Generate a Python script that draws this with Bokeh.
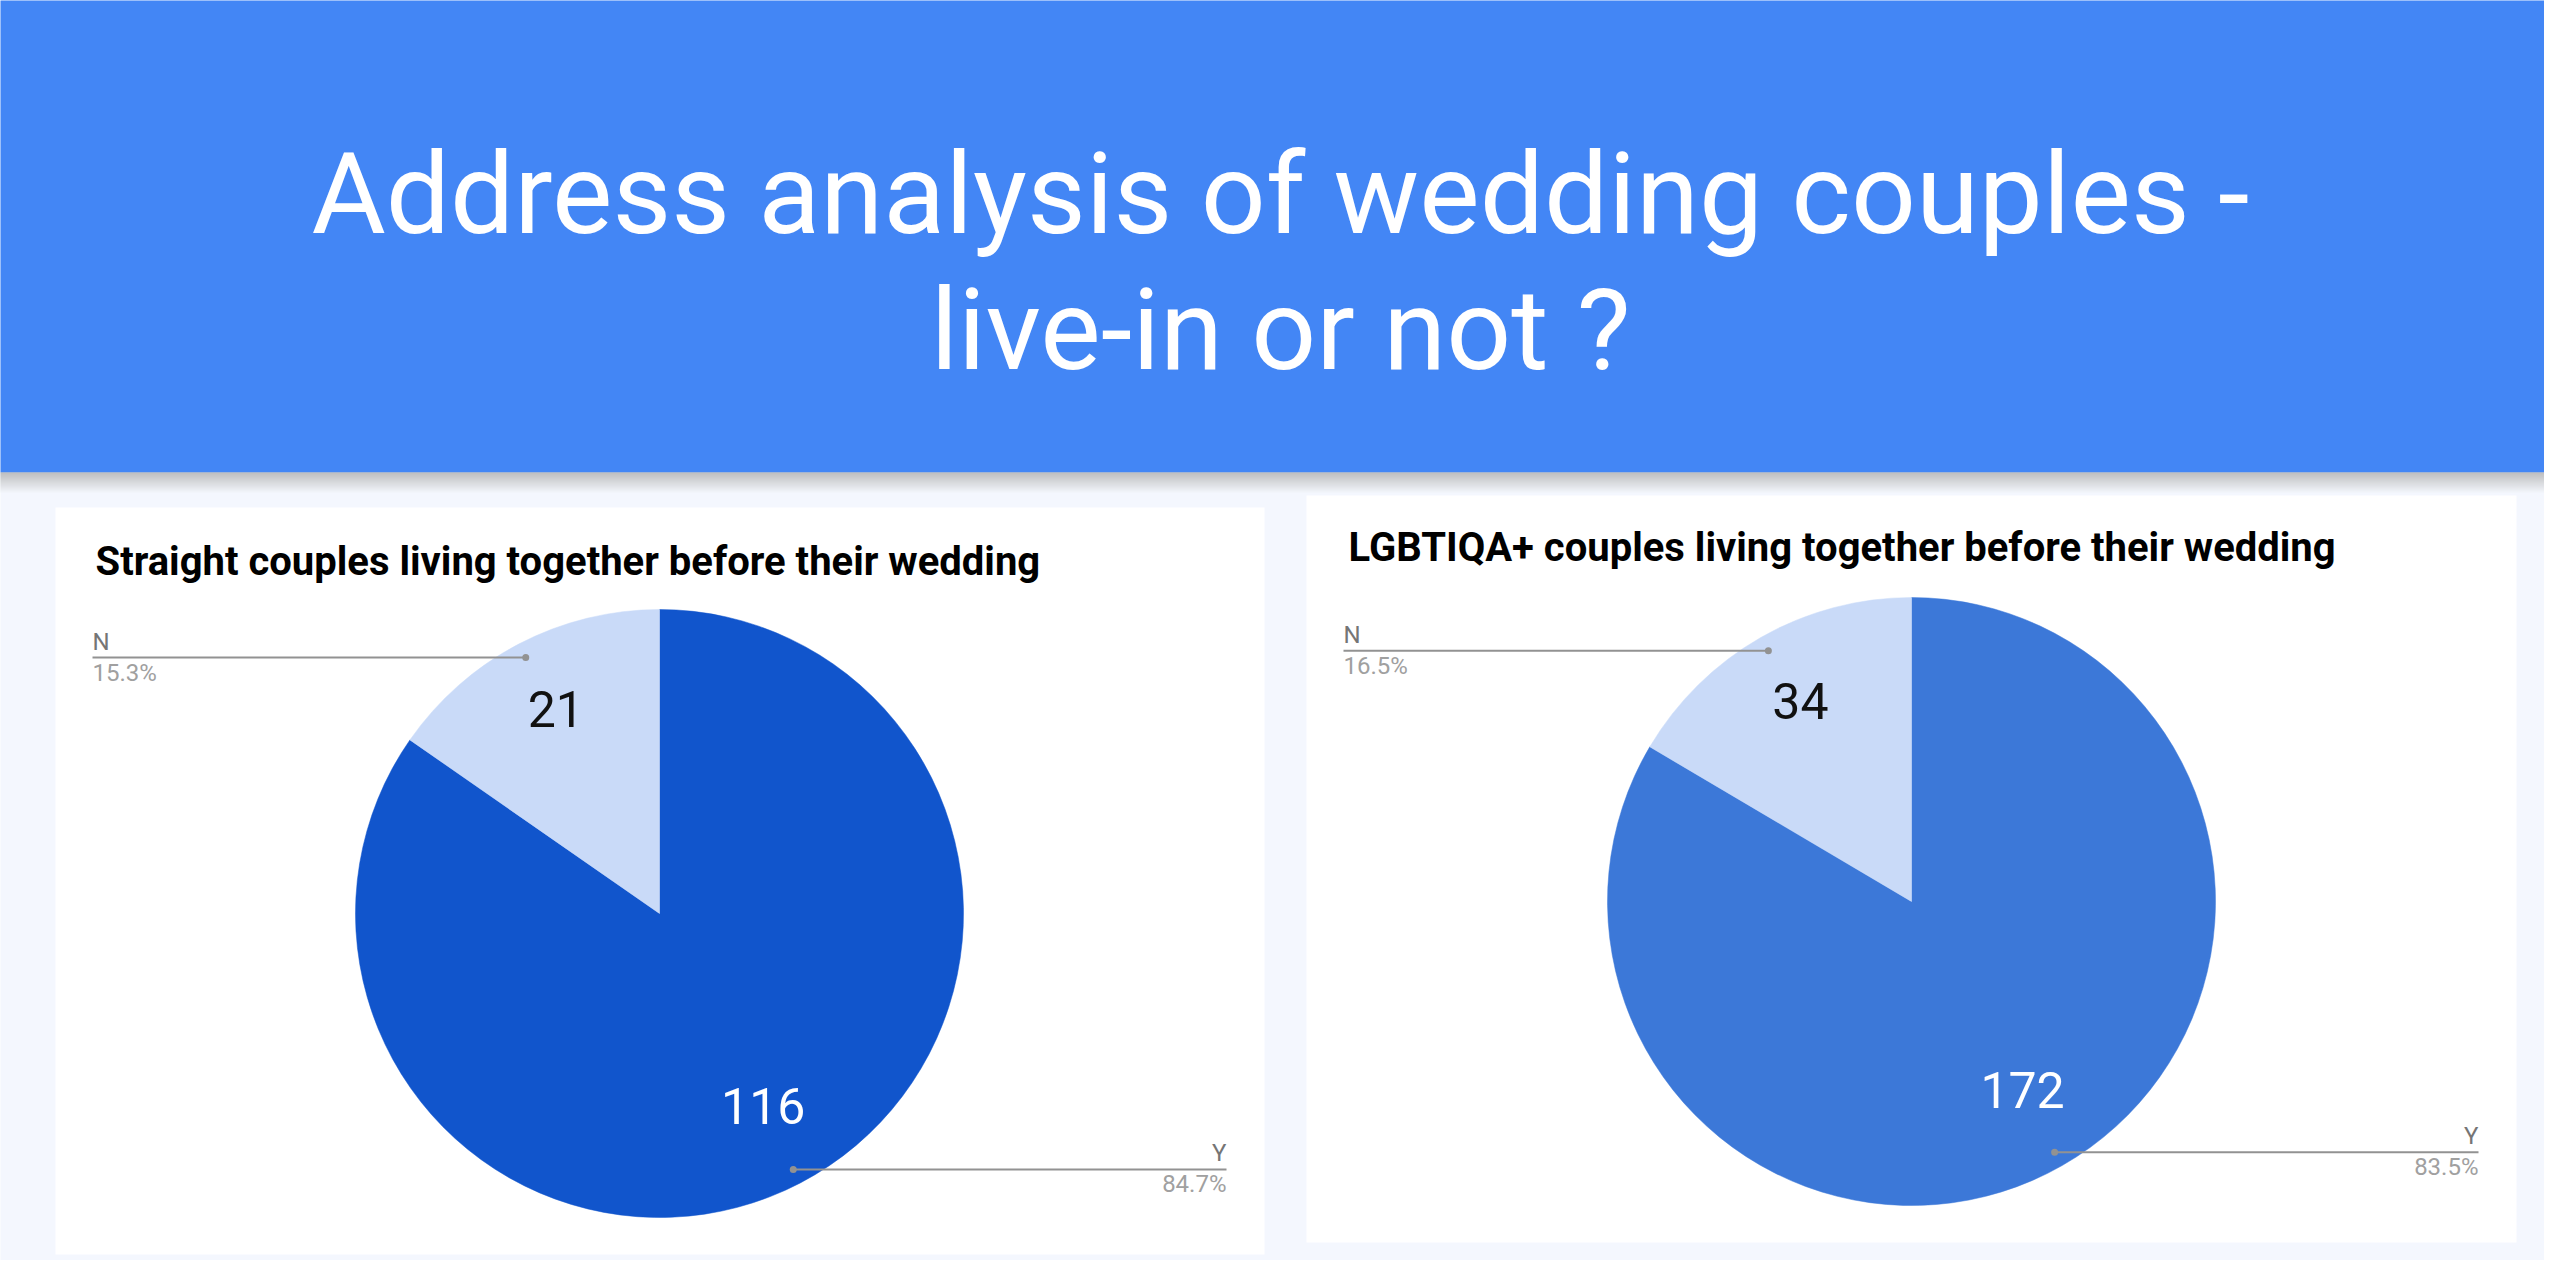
import numpy as np
from bokeh.plotting import figure
from bokeh.models import Range1d, ColumnDataSource
from bokeh.core.properties import value
from bokeh.embed import file_html
from bokeh.resources import INLINE

# ---------------- data ----------------
main_title_lines = ["Address analysis of wedding couples -", "live-in or not ?"]
chart_titles = ["Straight couples living together before their wedding",
                "LGBTIQA+ couples living together before their wedding"]
categories = ["Y", "N"]
straight_counts = [116, 21]
lgbtiqa_counts = [172, 34]

# ---------------- layout / style ----------------
PAGE_W, PAGE_H, MARGIN = 2560, 1276, 8
W, H = PAGE_W - 2 * MARGIN, PAGE_H - 2 * MARGIN
FONT = "Roboto"
HEADER_BLUE = "#4386f5"
BG = "#f4f7fe"


def sy(s):
    """reference-image y (px from top) -> data y"""
    return H - s


p = figure(width=W, height=H, output_backend="svg", toolbar_location=None,
           x_axis_type=None, y_axis_type=None, min_border=0,
           x_range=Range1d(0, W), y_range=Range1d(0, H))
p.outline_line_color = None
p.background_fill_color = BG
p.border_fill_color = BG

# header band
p.quad(left=[-20], right=[PAGE_W], top=[sy(-20)], bottom=[sy(472)],
       fill_color=HEADER_BLUE, line_color=None)
# header shadow
n_sh = 20
sh_tops = [sy(472 + i) for i in range(n_sh)]
sh_bots = [sy(473 + i) for i in range(n_sh)]
sh_cols = []
for i in range(n_sh):
    t = i / (n_sh - 1)
    r = int(172 + (240 - 172) * t)
    g = int(172 + (243 - 172) * t)
    b = int(172 + (248 - 172) * t)
    sh_cols.append("#%02x%02x%02x" % (r, g, b))
p.quad(left=[-20] * n_sh, right=[PAGE_W] * n_sh, top=sh_tops, bottom=sh_bots,
       fill_color=sh_cols, line_color=None)

# main title (anchored at cap-height centre)
p.text(x=[PAGE_W / 2] * 2, y=[sy(193), sy(329)], text=main_title_lines,
       text_font=value(FONT), text_font_size="114px", text_color="white",
       text_align="center", text_baseline="middle")

panels = [
    dict(x0=55, x1=1264, y0=507, y1=1254, cx=659, cy=913, tx=95, tc=561,
         colors=["#1155cc", "#c9daf8"], counts=straight_counts, title=chart_titles[0],
         label_colors=["white", "#111111"]),
    dict(x0=1306, x1=2516, y0=495, y1=1242, cx=1911, cy=901, tx=1348, tc=547,
         colors=["#3c78d8", "#c9daf8"], counts=lgbtiqa_counts, title=chart_titles[1],
         label_colors=["white", "#111111"]),
]
R = 304

for pn in panels:
    # white card
    p.quad(left=[pn["x0"]], right=[pn["x1"]], top=[sy(pn["y0"])], bottom=[sy(pn["y1"])],
           fill_color="white", line_color=None)
    # card title
    p.text(x=[pn["tx"]], y=[sy(pn["tc"])], text=[pn["title"]],
           text_font=value(FONT), text_font_style="bold", text_font_size="40px",
           text_color="#000000", text_align="left", text_baseline="middle")

    counts = np.array(pn["counts"], dtype=float)
    frac = counts / counts.sum()
    cum = np.cumsum(frac)
    start = np.deg2rad(90 - (cum - frac) * 360)
    end = np.deg2rad(90 - cum * 360)
    mid = (start + end) / 2
    cx, cy = pn["cx"], sy(pn["cy"])

    src = ColumnDataSource(dict(start=start, end=end, color=pn["colors"]))
    p.wedge(x=cx, y=cy, radius=R, start_angle="start", end_angle="end",
            direction="clock", fill_color="color", line_color="color",
            line_width=0.5, source=src)

    # value labels inside slices
    lx = cx + 0.737 * R * np.cos(mid)
    ly = cy + 0.737 * R * np.sin(mid) + 6
    p.text(x=lx, y=ly, text=[str(int(c)) for c in counts],
           text_font=value(FONT), text_font_size="50px",
           text_color=pn["label_colors"], text_align="center", text_baseline="middle")

    # leader lines + legend labels
    dx = cx + 0.95 * R * np.cos(mid)
    dy = cy + 0.95 * R * np.sin(mid)
    for i, cat in enumerate(categories):
        left_side = np.cos(mid[i]) < 0
        ex = pn["x0"] + 37 if left_side else pn["x1"] - 38
        p.line(x=[dx[i], ex], y=[dy[i], dy[i]], line_color="#929292", line_width=2)
        p.scatter(x=[dx[i]], y=[dy[i]], size=7, marker="circle",
                  fill_color="#929292", line_color=None)
        align = "left" if left_side else "right"
        p.text(x=[ex], y=[dy[i] + 16], text=[cat], text_font=value(FONT),
               text_font_size="24px", text_color="#757575", text_align=align,
               text_baseline="middle")
        p.text(x=[ex], y=[dy[i] - 15], text=["%.1f%%" % (frac[i] * 100)],
               text_font=value(FONT), text_font_size="24px", text_color="#a0a0a0",
               text_align=align, text_baseline="middle")

open("out.html", "w").write(file_html(p, INLINE))
